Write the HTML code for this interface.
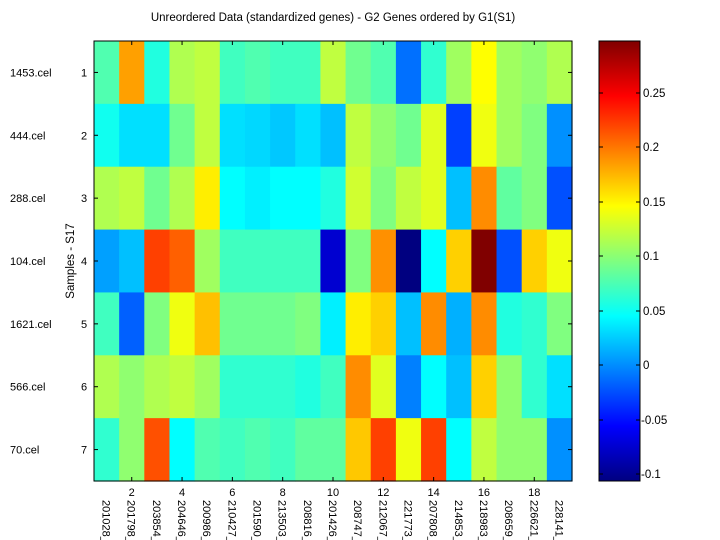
<!DOCTYPE html>
<html><head><meta charset="utf-8"><style>
body{margin:0;background:#fff;}
svg{display:block;font-family:"Liberation Sans",sans-serif;}
</style></head><body>
<svg width="720" height="540" xmlns="http://www.w3.org/2000/svg">
<defs>
<linearGradient id="jet" x1="0" y1="1" x2="0" y2="0">
<stop offset="0" stop-color="#000080"/>
<stop offset="0.125" stop-color="#0000ff"/>
<stop offset="0.375" stop-color="#00ffff"/>
<stop offset="0.625" stop-color="#ffff00"/>
<stop offset="0.875" stop-color="#ff0000"/>
<stop offset="1" stop-color="#800000"/>
</linearGradient>
</defs>
<text x="333" y="21" font-size="11.5" text-anchor="middle">Unreordered Data (standardized genes) - G2 Genes ordered by G1(S1)</text>
<g id="cells"></g>
<rect x="94" y="41" width="478" height="440" fill="none" stroke="#000" stroke-width="1"/>
<g id="ticks" stroke="#000" stroke-width="1"></g>
<g id="labels" font-size="11"></g>
<text transform="translate(74,261) rotate(-90)" font-size="11.5" text-anchor="middle">Samples - S17</text>
<rect x="599" y="41" width="41" height="440" fill="url(#jet)" stroke="#000" stroke-width="1"/>
<g font-size="11.5">
<line x1="640" y1="93" x2="636" y2="93" stroke="#000"/><line x1="599" y1="93" x2="603" y2="93" stroke="#000"/><text x="643" y="97">0.25</text>
<line x1="640" y1="147" x2="636" y2="147" stroke="#000"/><line x1="599" y1="147" x2="603" y2="147" stroke="#000"/><text x="643" y="151">0.2</text>
<line x1="640" y1="202" x2="636" y2="202" stroke="#000"/><line x1="599" y1="202" x2="603" y2="202" stroke="#000"/><text x="643" y="206">0.15</text>
<line x1="640" y1="256" x2="636" y2="256" stroke="#000"/><line x1="599" y1="256" x2="603" y2="256" stroke="#000"/><text x="643" y="260">0.1</text>
<line x1="640" y1="311" x2="636" y2="311" stroke="#000"/><line x1="599" y1="311" x2="603" y2="311" stroke="#000"/><text x="643" y="315">0.05</text>
<line x1="640" y1="365" x2="636" y2="365" stroke="#000"/><line x1="599" y1="365" x2="603" y2="365" stroke="#000"/><text x="643" y="369">0</text>
<line x1="640" y1="420" x2="636" y2="420" stroke="#000"/><line x1="599" y1="420" x2="603" y2="420" stroke="#000"/><text x="641" y="424">-0.05</text>
<line x1="640" y1="474" x2="636" y2="474" stroke="#000"/><line x1="599" y1="474" x2="603" y2="474" stroke="#000"/><text x="641" y="478">-0.1</text>
</g>
<script>
var C=[
["#50ffb0","#ffa000","#20ffe0","#b0ff50","#c0ff40","#40ffc0","#50ffb0","#40ffc0","#40ffc0","#c0ff40","#70ff90","#50ffb0","#0070ff","#30ffd0","#a0ff60","#ffff00","#a0ff60","#90ff70","#b0ff50"],
["#10fff0","#00e0ff","#00e0ff","#70ff90","#c0ff40","#00e0ff","#00d8ff","#00c8ff","#00e0ff","#00c0ff","#c0ff40","#90ff70","#70ff90","#e0ff20","#0040ff","#f0ff10","#a0ff60","#80ff80","#0090ff"],
["#b0ff50","#c0ff40","#70ff90","#b0ff50","#ffee00","#00ffff","#00f0ff","#00ffff","#00ffff","#20ffe0","#d0ff30","#80ff80","#c0ff40","#e0ff20","#00c0ff","#ff8c00","#60ffa0","#80ff80","#0050ff"],
["#00a0ff","#00c0ff","#ff4000","#ff6000","#a0ff60","#40ffc0","#40ffc0","#40ffc0","#40ffc0","#0000d0","#80ff80","#ff9000","#000080","#00ffff","#ffd000","#800000","#0050ff","#ffd000","#f0ff10"],
["#40ffc0","#0060ff","#80ff80","#f0ff10","#ffc000","#70ff90","#70ff90","#70ff90","#80ff80","#00f0ff","#ffee00","#ffd000","#00c0ff","#ff8c00","#00b0ff","#ff8c00","#20ffe0","#30ffd0","#80ff80"],
["#b0ff50","#90ff70","#b0ff50","#c0ff40","#a0ff60","#30ffd0","#30ffd0","#30ffd0","#20ffe0","#40ffc0","#ff8c00","#e0ff20","#0080ff","#00ffff","#00c0ff","#ffd000","#90ff70","#30ffd0","#00e0ff"],
["#30ffd0","#90ff70","#ff5000","#00ffff","#50ffb0","#40ffc0","#50ffb0","#40ffc0","#60ffa0","#60ffa0","#ffc800","#ff4000","#f0ff10","#ff4000","#00ffff","#c0ff40","#90ff70","#90ff70","#0090ff"]];
var NS="http://www.w3.org/2000/svg",x0=94,y0=41,cw=478/19,ch=440/7;
function el(t,a,p,txt){var e=document.createElementNS(NS,t);for(var k in a)e.setAttribute(k,a[k]);if(txt)e.textContent=txt;document.getElementById(p).appendChild(e);}
for(var r=0;r<7;r++)for(var c=0;c<19;c++)el("rect",{x:x0+c*cw,y:y0+r*ch,width:cw+0.6,height:ch+0.6,fill:C[r][c]},"cells");
var S=["1453.cel","444.cel","288.cel","104.cel","1621.cel","566.cel","70.cel"];
for(var r=0;r<7;r++){var y=y0+(r+0.5)*ch;el("line",{x1:94,y1:y,x2:98,y2:y},"ticks");el("line",{x1:572,y1:y,x2:568,y2:y},"ticks");
el("text",{x:84,y:y+4,"text-anchor":"middle"},"labels",""+(r+1));el("text",{x:10,y:y+4},"labels",S[r]);}
var G=["201028_","201798_","203854_","204646_","200986_","210427_","201590_","213503_","208816_","201426_","208747_","212067_","221773_","207808_","214853_","218983_","208659_","226621_","228141_"];
for(var c=0;c<19;c++){var x=x0+(c+0.5)*cw;
if((c+1)%2==0){el("line",{x1:x,y1:481,x2:x,y2:477},"ticks");el("line",{x1:x,y1:41,x2:x,y2:45},"ticks");el("text",{x:x,y:496,"text-anchor":"middle"},"labels",""+(c+1));}
el("text",{transform:"translate("+(x-4)+",500) rotate(90)"},"labels",G[c]);}
</script>
</svg>
</body></html>
